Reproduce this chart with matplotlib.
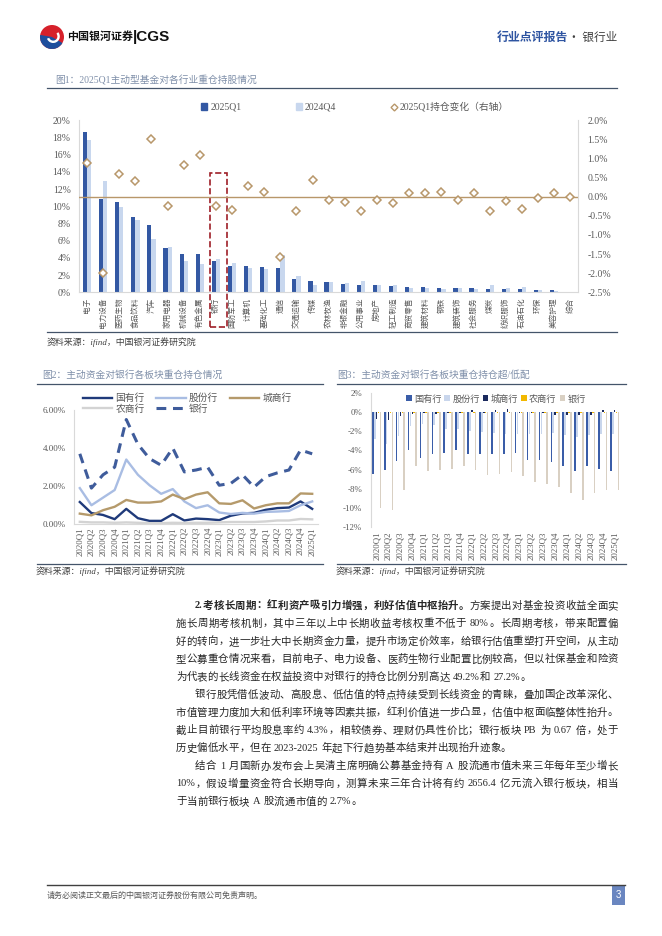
import matplotlib
matplotlib.use("Agg")
import matplotlib.pyplot as plt
from matplotlib.patches import Rectangle, Circle, Wedge, Patch
from matplotlib.lines import Line2D
import numpy as np

plt.rcParams['font.family'] = ['Liberation Serif', 'Noto Sans CJK SC']
plt.rcParams['axes.unicode_minus'] = False

W, H = 662, 936

# ---- figure 1: industry holdings of active funds ----
industries = ['电子', '电力设备', '医药生物', '食品饮料', '汽车', '家用电器', '机械设备', '有色金属',
              '银行', '国防军工', '计算机', '基础化工', '通信', '交通运输', '传媒', '农林牧渔',
              '非银金融', '公用事业', '房地产', '轻工制造', '商贸零售', '建筑材料', '钢铁', '建筑装饰',
              '社会服务', '煤炭', '纺织服饰', '石油石化', '环保', '美容护理', '综合']
hold_2025q1 = [18.6, 10.85, 10.5, 8.8, 7.8, 5.1, 4.5, 4.45, 3.65, 3.1, 3.05, 2.95, 2.8, 1.6, 1.3, 1.2,
               1.0, 0.9, 0.8, 0.75, 0.6, 0.6, 0.55, 0.45, 0.45, 0.4, 0.35, 0.35, 0.3, 0.25, 0.0]
hold_2024q4 = [17.7, 12.9, 9.9, 8.4, 6.2, 5.3, 3.6, 3.3, 3.9, 3.4, 2.8, 2.75, 4.3, 1.9, 0.85, 1.2,
               1.1, 1.3, 0.8, 0.9, 0.45, 0.45, 0.4, 0.55, 0.4, 0.8, 0.45, 0.6, 0.3, 0.1, 0.05]
hold_change = [0.89, -2.0, 0.6, 0.41, 1.51, -0.23, 0.84, 1.1, -0.23, -0.35, 0.27, 0.12, -1.58, -0.36,
               0.43, -0.09, -0.14, -0.37, -0.09, -0.16, 0.1, 0.09, 0.12, -0.09, 0.09, -0.36, -0.11,
               -0.33, -0.03, 0.1, 0.0]

# ---- figure 2 / 3: bank sub-sectors ----
quarters = ['2020Q1', '2020Q2', '2020Q3', '2020Q4', '2021Q1', '2021Q2', '2021Q3', '2021Q4',
            '2022Q1', '2022Q2', '2022Q3', '2022Q4', '2023Q1', '2023Q2', '2023Q3', '2023Q4',
            '2024Q1', '2024Q2', '2024Q3', '2024Q4', '2025Q1']
soe = [1.17, 0.59, 0.49, 0.27, 0.81, 0.32, 0.18, 0.18, 0.53, 0.2, 0.3, 0.27, 0.22, 0.45, 0.57,
       0.6, 0.76, 0.85, 0.88, 1.2, 0.81]
joint = [1.9, 1.0, 1.4, 1.8, 3.4, 2.6, 2.05, 1.6, 1.85, 1.2, 0.85, 1.0, 0.62, 0.54, 0.6, 0.56,
         0.65, 0.67, 0.7, 1.0, 1.2]
city = [0.56, 0.47, 0.74, 0.92, 1.28, 1.14, 1.14, 1.2, 1.56, 1.32, 1.56, 1.68, 1.1, 1.07, 1.26,
        0.83, 1.0, 1.1, 1.1, 1.62, 1.6]
rural = [0.13, 0.1, 0.1, 0.08, 0.1, 0.08, 0.06, 0.06, 0.08, 0.07, 0.08, 0.08, 0.1, 0.12, 0.12,
         0.12, 0.15, 0.2, 0.2, 0.28, 0.26]
bank = [3.7, 1.9, 2.6, 3.0, 5.5, 4.2, 3.45, 3.1, 4.0, 2.75, 2.85, 3.0, 2.05, 2.15, 2.6, 1.95,
        2.5, 2.7, 2.85, 3.9, 3.7]

over_soe = [-6.45, -6.05, -5.1, -3.9, -4.8, -4.35, -4.3, -3.9, -4.35, -4.35, -4.35, -4.35, -4.25,
            -4.95, -5.0, -5.2, -5.65, -6.2, -5.65, -5.95, -6.2]
over_joint = [-2.8, -3.3, -2.5, -1.45, -1.2, -1.35, -1.7, -1.75, -1.95, -2.1, -2.2, -2.25, -2.25,
              -2.25, -2.25, -2.2, -2.4, -2.6, -2.4, -2.25, -2.25]
over_city = [-0.7, -0.75, -0.35, -0.2, -0.1, -0.2, -0.1, -0.1, 0.25, -0.1, 0.2, 0.3, -0.1, -0.05,
             -0.1, -0.3, -0.3, -0.3, -0.3, 0.2, 0.2]
over_rural = [-0.05, -0.05, -0.05, -0.04, -0.04, -0.04, -0.03, -0.03, -0.03, -0.03, -0.03, -0.03,
              -0.03, -0.03, -0.03, -0.03, -0.03, -0.03, -0.03, -0.02, -0.02]
over_bank = [-10.0, -10.2, -8.1, -5.6, -6.2, -6.1, -5.95, -5.6, -6.1, -6.6, -6.5, -6.3, -6.65,
             -7.3, -7.5, -7.8, -8.5, -9.2, -8.5, -8.1, -8.2]

DARK = '#3358A3'
LIGHT = '#C8D7EE'
TAN = '#B8976A'
GRID = '#D9D9D9'
TICK = '#595959'
TITLE = '#7F8FA9'
RULE = '#44546A'


def fx(x):
    return x / W


def fy(y):
    return 1 - y / H


def rule(x0, x1, y, color=RULE, lw=0.9):
    fig.add_artist(Line2D([fx(x0), fx(x1)], [fy(y), fy(y)], transform=fig.transFigure,
                          color=color, lw=lw))


def style(ax):
    for s in ['top', 'right']:
        ax.spines[s].set_visible(False)
    for s in ['left', 'bottom']:
        ax.spines[s].set_color(GRID)
        ax.spines[s].set_linewidth(0.8)
    ax.tick_params(length=0, colors=TICK)


fig = plt.figure(figsize=(6.62, 9.36), dpi=100)

# ---- page header ----
ax_logo = fig.add_axes([fx(40), fy(49), 24 / W, 24 / H])
ax_logo.set_xlim(-1, 1)
ax_logo.set_ylim(-1, 1)
ax_logo.axis('off')
ax_logo.add_patch(Circle((0, 0), 1, fc='#D6202A', ec='none'))
ax_logo.add_patch(Wedge((0, 0), 1, 170, 330, fc='#1E4E9D', ec='none'))
ax_logo.add_patch(Wedge((0.1, 0.05), 0.55, 200, 40, width=0.2, fc='white', ec='none'))
fig.text(fx(67), fy(37), '中国银河证券', fontsize=7.9, fontweight='bold', color='#111111',
         family=['Noto Sans CJK SC'], va='center')
fig.text(fx(133), fy(37.5), '|CGS', fontsize=11, fontweight='bold', color='#111111',
         family=['Liberation Sans'], va='center')
fig.text(fx(568), fy(37), '行业点评报告', fontsize=8.6, fontweight='bold', color='#2E54A1',
         family=['Noto Sans CJK SC'], va='center', ha='right')
fig.text(fx(617), fy(37), '· 银行业', fontsize=8.4, color='#404040',
         family=['Noto Sans CJK SC'], va='center', ha='right')

# ---- figure 1 ----
fig.text(fx(55), fy(80), '图1：2025Q1主动型基金对各行业重仓持股情况', fontsize=7, color=TITLE,
         va='center')
rule(47, 617, 88)

ax1 = fig.add_axes([fx(79), fy(292.3), (578.3 - 79) / W, (292.3 - 120.3) / H])
x = np.arange(len(industries))
ax1.bar(x - 0.13, hold_2025q1, 0.26, color=DARK, zorder=2)
ax1.bar(x + 0.13, hold_2024q4, 0.26, color=LIGHT, zorder=2)
ax1.set_xlim(-0.5, len(industries) - 0.5)
ax1.set_ylim(0, 20)
ax1.set_yticks(range(0, 21, 2))
ax1.set_yticklabels([f'{v}%' for v in range(0, 21, 2)], fontsize=7)
ax1.set_xticks(x)
ax1.set_xticklabels(industries, rotation=90, fontsize=5.5, color='#404040',
                    family=['Noto Sans CJK SC'])
style(ax1)
ax1.tick_params(axis='y', pad=6)
ax1.tick_params(axis='x', pad=4)
ax1.add_patch(Rectangle((7.64, -4.0), 1.04, 17.9, fill=False, ec='#9E1F27', ls='--', lw=1.2,
                        clip_on=False, zorder=5))

ax1b = ax1.twinx()
ax1b.axhline(0, color=TAN, lw=1, zorder=1)
ax1b.plot(x, hold_change, 'D', mfc='white', mec=TAN, ms=4.3, mew=1.1, zorder=3)
ax1b.set_ylim(-2.5, 2.0)
rt = np.arange(-2.5, 2.01, 0.5)
ax1b.set_yticks(rt)
ax1b.set_yticklabels([f'{v:.1f}%' for v in rt], fontsize=7)
for s in ['top', 'left', 'bottom']:
    ax1b.spines[s].set_visible(False)
ax1b.spines['right'].set_color(GRID)
ax1b.spines['right'].set_linewidth(0.8)
ax1b.tick_params(length=0, colors=TICK, pad=6.5)

h1 = [Patch(color=DARK, label='2025Q1'),
      Patch(color=LIGHT, label='2024Q4'),
      Line2D([], [], marker='D', ls='none', mfc='white', mec=TAN, ms=3.5, mew=1,
             label='2025Q1持仓变化（右轴）')]
fig.legend(handles=h1, loc='center left', bbox_to_anchor=(fx(201), fy(107)), ncol=3,
           frameon=False, fontsize=7, handlelength=0.6, handleheight=0.6, handletextpad=0.35,
           columnspacing=5.6, borderpad=0, borderaxespad=0, labelcolor=TICK)

rule(47, 617, 332)
fig.text(fx(47), fy(342), '资料来源：ifind，中国银河证券研究院', fontsize=6.4, style='italic',
         color='#404040', va='center')

# ---- figure 2 ----
fig.text(fx(42), fy(375), '图2：主动资金对银行各板块重仓持仓情况', fontsize=7, color=TITLE,
         va='center')
rule(36.7, 322.7, 384)

ax2 = fig.add_axes([fx(74), fy(524.3), (318 - 74) / W, (524.3 - 410) / H])
q = np.arange(len(quarters))
l_soe, = ax2.plot(q, soe, color='#1F3A7A', lw=1.7, label='国有行')
l_joint, = ax2.plot(q, joint, color='#A9BDE3', lw=1.7, label='股份行')
l_city, = ax2.plot(q, city, color='#B59A6B', lw=1.7, label='城商行')
l_rural, = ax2.plot(q, rural, color='#D3D3D3', lw=1.7, label='农商行')
l_bank, = ax2.plot(q, bank, color='#3F5C9B', lw=2.2, ls=(0, (3.2, 2.2)), label='银行')
ax2.set_xlim(-0.5, len(quarters) - 0.5)
ax2.set_ylim(0, 6)
ax2.set_yticks([0, 2, 4, 6])
ax2.set_yticklabels([f'{v:.2f}%' for v in [0, 2, 4, 6]], fontsize=6.5)
ax2.set_xticks(q)
ax2.set_xticklabels(quarters, rotation=90, fontsize=6.3)
style(ax2)
ax2.tick_params(axis='y', pad=6)
ax2.tick_params(axis='x', pad=2)
# legend fills column by column, so order the handles to read row by row
ax2.legend(handles=[l_soe, l_rural, l_joint, l_bank, l_city],
           loc='upper left', bbox_to_anchor=(fx(83), fy(393.5)), bbox_transform=fig.transFigure,
           ncol=3, frameon=False, fontsize=7, handlelength=3.0, handletextpad=0.35,
           columnspacing=1.2, labelspacing=0.1, borderpad=0, borderaxespad=0, labelcolor=TICK)

rule(36.7, 322.7, 563.5)
fig.text(fx(36), fy(571), '资料来源：ifind，中国银河证券研究院', fontsize=6.4, style='italic',
         color='#404040', va='center')

# ---- figure 3 ----
fig.text(fx(337), fy(375), '图3：主动资金对银行各板块重仓持仓超/低配', fontsize=7, color=TITLE,
         va='center')
rule(336.7, 626, 384)

ax3 = fig.add_axes([fx(370.7), fy(526.7), (620.6 - 370.7) / W, (526.7 - 393.3) / H])
series3 = [(over_soe, '#3A5DA8', '国有行'), (over_joint, '#C9D6EC', '股份行'),
           (over_city, '#1B2A5E', '城商行'), (over_rural, '#F2B800', '农商行'),
           (over_bank, '#D9D0C3', '银行')]
for i, (vals, col, lab) in enumerate(series3):
    ax3.bar(q + (i - 2) * 0.16, vals, 0.13, color=col, label=lab)
ax3.set_xlim(-0.5, len(quarters) - 0.5)
ax3.set_ylim(-12, 2)
yt3 = list(range(-12, 3, 2))
ax3.set_yticks(yt3)
ax3.set_yticklabels([f'{v}%' for v in yt3], fontsize=6.4)
ax3.set_xticks(q)
ax3.set_xticklabels(quarters, rotation=90, fontsize=6.3)
style(ax3)
ax3.spines['bottom'].set_visible(False)
ax3.tick_params(axis='y', pad=6.3)
ax3.tick_params(axis='x', pad=3.5)
ax3.legend(loc='center left', bbox_to_anchor=(fx(406), fy(399)), bbox_transform=fig.transFigure,
           ncol=5, frameon=False, fontsize=6.6, handlelength=0.6, handleheight=0.6,
           handletextpad=0.25, columnspacing=0.35, borderpad=0, borderaxespad=0, labelcolor=TICK)

rule(336.7, 626, 563.5)
fig.text(fx(336), fy(571), '资料来源：ifind，中国银河证券研究院', fontsize=6.4, style='italic',
         color='#404040', va='center')

# ---- body text, justified line by line ----
body = [
    (195, [('2.考核长周期：红利资产吸引力增强，利好估值中枢抬升。', True), ('方案提出对基金投资收益全面实', False)], True),
    (176, [('施长周期考核机制，其中三年以上中长期收益考核权重不低于 80%。长周期考核，带来配置偏', False)], True),
    (176, [('好的转向，进一步壮大中长期资金力量，提升市场定价效率，给银行估值重塑打开空间，从主动', False)], True),
    (176, [('型公募重仓情况来看，目前电子、电力设备、医药生物行业配置比例较高，但以社保基金和险资', False)], True),
    (176, [('为代表的长线资金在权益投资中对银行的持仓比例分别高达 49.2%和 27.2%。', False)], False),
    (195, [('银行股凭借低波动、高股息、低估值的特点持续受到长线资金的青睐，叠加国企改革深化、', False)], True),
    (176, [('市值管理力度加大和低利率环境等因素共振，红利价值进一步凸显，估值中枢面临整体性抬升。', False)], True),
    (176, [('截止目前银行平均股息率约 4.3%，相较债券、理财仍具性价比；银行板块 PB 为 0.67 倍，处于', False)], True),
    (176, [('历史偏低水平，但在 2023-2025 年起下行趋势基本结束并出现抬升迹象。', False)], False),
    (195, [('结合 1 月国新办发布会上吴清主席明确公募基金持有 A 股流通市值未来三年每年至少增长', False)], True),
    (176, [('10%，假设增量资金符合长期导向，测算未来三年合计将有约 2656.4 亿元流入银行板块，相当', False)], True),
    (176, [('于当前银行板块 A 股流通市值的 2.7%。', False)], False),
]
BODY_SIZE = 7.5
renderer = fig.canvas.get_renderer()


def split_tokens(parts):
    toks = []
    for text, bold in parts:
        buf = ''
        for ch in text:
            if ch.isascii() and ch != ' ':
                buf += ch
                continue
            if buf:
                toks.append((buf, bold))
                buf = ''
            toks.append((ch, bold))
        if buf:
            toks.append((buf, bold))
    return toks


for i, (x0, parts, justify) in enumerate(body):
    y = 606 + 17.8 * i
    toks = split_tokens(parts)
    widths = []
    for tok, bold in toks:
        if tok == ' ':
            widths.append(BODY_SIZE * 100 / 72 * 0.28)
            continue
        t = fig.text(0, 0, tok, fontsize=BODY_SIZE, fontweight='bold' if bold else 'normal')
        widths.append(t.get_window_extent(renderer).width)
        t.remove()
    gap = (618 - x0 - sum(widths)) / (len(toks) - 1) if justify else 0.15
    cx = x0
    for (tok, bold), w in zip(toks, widths):
        if tok != ' ':
            fig.text(fx(cx), fy(y), tok, fontsize=BODY_SIZE, color='#262626', va='center',
                     fontweight='bold' if bold else 'normal')
        cx += w + gap

# ---- footer ----
rule(47, 625, 885, color='#404040', lw=1)
fig.text(fx(47), fy(896), '请务必阅读正文最后的中国银河证券股份有限公司免责声明。', fontsize=5.8,
         color='#595959', va='center')
fig.add_artist(Rectangle((fx(612), fy(905)), 13 / W, 19 / H, transform=fig.transFigure,
                         fc='#6A86C0', ec='none'))
fig.text(fx(618.5), fy(895.5), '3', fontsize=7, color='white', ha='center', va='center',
         family=['Liberation Sans'])

fig.savefig('out.png', dpi=100)
